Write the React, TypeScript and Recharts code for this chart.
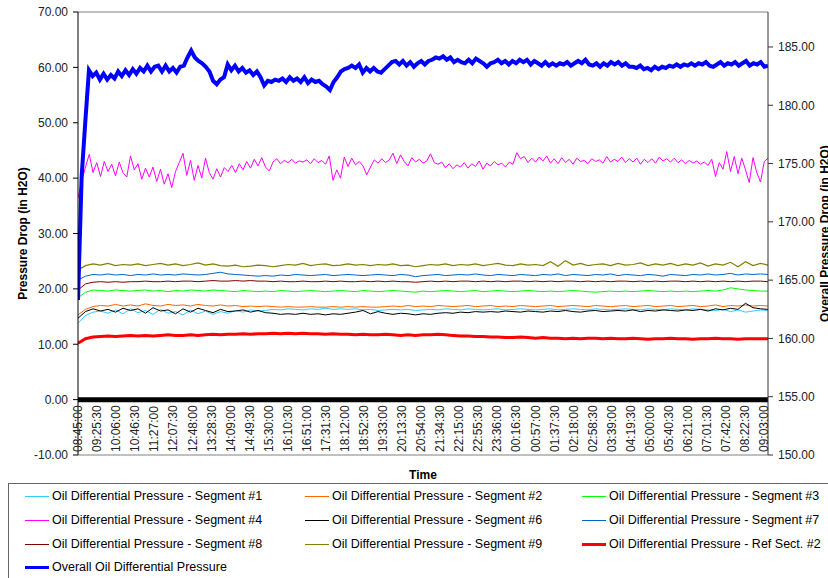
import React from 'react';
import { LineChart, Line, XAxis, YAxis, ReferenceLine } from 'recharts';

// time labels every 40 min 30 s, 08:45:00 -> 09:03:00 next day
const timeLabels = [
  '08:45:00', '09:25:30', '10:06:00', '10:46:30', '11:27:00', '12:07:30', '12:48:00', '13:28:30',
  '14:09:00', '14:49:30', '15:30:00', '16:10:30', '16:51:00', '17:31:30', '18:12:00', '18:52:30',
  '19:33:00', '20:13:30', '20:54:00', '21:34:30', '22:15:00', '22:55:30', '23:36:00', '00:16:30',
  '00:57:00', '01:37:30', '02:18:00', '02:58:30', '03:39:00', '04:19:30', '05:00:00', '05:40:30',
  '06:21:00', '07:01:30', '07:42:00', '08:22:30', '09:03:00',
];
const TICK_STEP = 40.5; // minutes
const END_MIN = 1466.5; // last sample, minutes after 08:45:00

const leftTicks = [-10, 0, 10, 20, 30, 40, 50, 60, 70];
const rightTicks = [150, 155, 160, 165, 170, 175, 180, 185];

const seg1 = [13.8, 15.2, 15.8, 16.0, 15.6, 16.2, 15.5, 16.4, 15.7, 16.1, 15.4, 16.3, 15.6, 15.9, 15.3, 16.2, 15.5, 16.0, 15.4, 15.9, 15.6, 16.1, 15.8, 16.2, 16.0, 16.1, 16.3, 16.2, 16.4, 16.3, 16.2, 16.4, 16.3, 16.5, 16.3, 16.4, 16.3, 16.4, 16.2, 16.3, 16.1, 16.2, 16.3, 16.2, 16.3, 16.1, 16.2, 16.3, 16.2, 16.4, 16.3, 16.2, 16.4, 16.3, 16.2, 16.3, 16.4, 16.2, 16.3, 16.4, 16.3, 16.2, 16.3, 16.4, 16.2, 16.3, 16.4, 16.3, 16.2, 16.4, 16.3, 16.2, 16.3, 16.4, 16.3, 16.2, 16.4, 16.3, 16.2, 16.4, 16.3, 16.2, 16.4, 16.3, 16.2, 16.1, 16.3, 15.9, 16.2, 15.8, 16.0, 16.2, 16.1];
const seg2 = [15.3, 16.3, 16.8, 17.0, 16.9, 17.2, 16.9, 17.1, 16.9, 17.3, 17.0, 16.9, 17.2, 17.0, 17.1, 16.9, 17.2, 17.0, 16.9, 17.1, 16.9, 17.0, 16.8, 16.9, 16.8, 16.9, 16.8, 16.7, 16.8, 16.7, 16.7, 16.8, 16.7, 16.7, 16.8, 16.7, 16.8, 16.7, 16.8, 16.7, 16.7, 16.8, 16.9, 16.8, 17.0, 16.8, 16.9, 16.8, 17.0, 16.9, 16.8, 16.9, 17.0, 16.8, 16.9, 17.0, 16.8, 16.9, 16.8, 17.0, 16.9, 16.8, 16.9, 17.0, 16.8, 16.9, 17.0, 16.9, 16.8, 17.0, 16.9, 16.8, 16.9, 17.0, 16.8, 16.9, 17.0, 16.8, 16.9, 17.0, 16.8, 16.9, 17.0, 16.8, 16.9, 17.1, 16.8, 17.0, 16.9, 17.1, 16.9, 17.0, 16.9];
const seg3 = [18.4, 19.4, 19.8, 19.7, 19.6, 19.8, 19.7, 19.6, 19.7, 19.8, 19.6, 19.7, 19.5, 19.7, 19.6, 19.8, 19.7, 19.6, 19.8, 19.7, 19.6, 19.5, 19.7, 19.6, 19.5, 19.6, 19.5, 19.7, 19.6, 19.5, 19.6, 19.7, 19.6, 19.5, 19.6, 19.7, 19.6, 19.5, 19.7, 19.6, 19.5, 19.6, 19.7, 19.6, 19.5, 19.4, 19.6, 19.5, 19.6, 19.7, 19.6, 19.5, 19.6, 19.7, 19.5, 19.6, 19.7, 19.6, 19.5, 19.6, 19.7, 19.6, 19.5, 19.6, 19.5, 19.6, 19.7, 19.6, 19.5, 19.4, 19.5, 19.6, 19.5, 19.6, 19.5, 19.6, 19.7, 19.6, 19.5, 19.6, 19.5, 19.6, 19.5, 19.6, 19.7, 19.6, 19.8, 20.2, 20.0, 19.8, 19.7, 19.6, 19.6];
const seg4 = [36.4, 39.5, 42.0, 44.3, 41.0, 42.8, 40.3, 43.0, 41.2, 42.5, 40.4, 42.9, 41.0, 40.2, 44.0, 41.5, 42.6, 39.8, 41.8, 40.2, 42.0, 39.4, 41.6, 38.9, 40.8, 38.3, 41.2, 42.8, 44.5, 40.5, 43.2, 39.6, 42.3, 40.0, 43.6, 41.0, 39.8, 41.7, 40.2, 41.9, 41.2, 42.3, 41.0, 42.6, 41.5, 43.0, 41.8, 43.4, 42.2, 43.7, 42.0, 41.3, 42.9, 43.5, 42.6, 43.2, 42.8, 43.4, 42.7, 43.1, 42.9, 43.3, 42.6, 43.5, 42.8, 43.2, 42.5, 44.0, 39.6, 41.5, 40.0, 43.8, 42.1, 43.6, 42.4, 43.0, 42.2, 40.6, 42.0, 43.3, 42.7, 43.5, 42.8, 43.3, 44.5, 42.6, 44.2, 43.0, 42.2, 43.7, 42.9, 43.4, 42.7, 43.1, 44.4, 42.8, 42.5, 42.9, 41.9, 42.6, 41.7, 42.4, 42.0, 42.8, 41.8, 42.6, 42.1, 43.1, 41.6, 42.7, 42.2, 43.0, 42.4, 42.7, 42.0, 42.9, 42.5, 44.6, 43.5, 43.9, 42.8, 43.6, 42.9, 43.8, 43.1, 44.0, 42.7, 43.5, 42.6, 43.7, 42.8, 43.4, 42.5, 43.6, 43.0, 43.2, 42.6, 43.5, 43.0, 43.3, 42.7, 43.9, 42.9, 43.4, 43.0, 43.8, 42.8, 43.5, 42.9, 43.6, 42.5, 43.4, 42.8, 43.5, 42.7, 43.8, 43.1, 43.5, 42.9, 43.6, 42.8, 43.3, 42.6, 43.2, 42.7, 43.1, 42.5, 42.9, 42.3, 43.4, 40.3, 42.8, 41.6, 44.8, 41.2, 43.9, 40.8, 43.6, 41.5, 39.2, 43.7, 41.0, 39.3, 43.0, 43.6];
const seg6 = [14.7, 15.9, 16.4, 16.0, 16.3, 15.8, 16.5, 16.1, 16.4, 15.6, 16.6, 16.0, 16.2, 15.5, 16.4, 15.8, 16.5, 16.1, 15.7, 16.3, 15.9, 16.0, 16.2, 15.8, 16.1, 15.7, 15.6, 15.4, 15.5, 15.4, 15.6, 15.4, 15.5, 15.3, 15.5, 15.4, 15.6, 15.8, 16.1, 15.5, 15.9, 15.6, 15.4, 15.6, 15.5, 15.3, 15.5, 15.4, 15.6, 15.7, 15.6, 15.8, 15.7, 15.9, 15.8, 15.9, 15.8, 16.0, 15.9, 15.8, 16.0, 15.9, 15.8, 16.0, 15.9, 16.1, 15.9, 15.8, 16.0, 16.1, 15.9, 16.0, 16.1, 16.0, 16.2, 15.9, 16.1, 16.0, 16.2, 16.1, 16.0, 16.2, 16.1, 16.3, 16.0, 16.4, 16.2, 16.5, 16.3, 17.4, 16.6, 16.4, 16.3];
const seg7 = [21.6, 22.3, 22.6, 22.5, 22.7, 22.5, 22.6, 22.4, 22.6, 22.5, 22.7, 22.5, 22.6, 22.5, 22.7, 22.6, 22.5, 22.6, 22.8, 23.0, 22.7, 22.6, 22.5, 22.4, 22.3, 22.4, 22.3, 22.5, 22.4, 22.6, 22.5, 22.4, 22.5, 22.6, 22.4, 22.5, 22.6, 22.5, 22.4, 22.5, 22.6, 22.5, 22.4, 22.6, 22.5, 22.2, 22.4, 22.5, 22.6, 22.4, 22.5, 22.6, 22.5, 22.7, 22.5, 22.4, 22.6, 22.5, 22.4, 22.6, 22.5, 22.4, 22.6, 22.5, 22.7, 22.4, 22.6, 22.5, 22.4, 22.6, 22.5, 22.7, 22.4, 22.6, 22.5, 22.4, 22.6, 22.5, 22.3, 22.6, 22.5, 22.4, 22.6, 22.5, 22.7, 22.5, 22.6, 22.8, 22.5, 22.7, 22.6, 22.7, 22.6];
const seg8 = [19.8, 20.9, 21.2, 21.3, 21.2, 21.3, 21.2, 21.3, 21.3, 21.4, 21.3, 21.3, 21.4, 21.3, 21.4, 21.4, 21.3, 21.4, 21.5, 21.4, 21.4, 21.5, 21.4, 21.5, 21.4, 21.4, 21.3, 21.4, 21.3, 21.3, 21.4, 21.3, 21.3, 21.4, 21.3, 21.4, 21.3, 21.3, 21.4, 21.3, 21.4, 21.3, 21.4, 21.3, 21.3, 21.2, 21.3, 21.4, 21.3, 21.4, 21.3, 21.4, 21.4, 21.3, 21.4, 21.3, 21.4, 21.3, 21.4, 21.4, 21.3, 21.4, 21.3, 21.4, 21.3, 21.4, 21.4, 21.3, 21.4, 21.3, 21.4, 21.3, 21.4, 21.4, 21.3, 21.4, 21.3, 21.4, 21.3, 21.4, 21.4, 21.3, 21.4, 21.3, 21.4, 21.3, 21.4, 21.3, 21.4, 21.3, 21.4, 21.4, 21.3];
const seg9 = [23.4, 24.2, 24.5, 24.3, 24.6, 24.2, 24.4, 24.3, 24.5, 24.2, 24.4, 24.6, 24.3, 24.5, 24.2, 24.4, 24.7, 24.3, 24.5, 24.2, 24.1, 24.3, 24.0, 24.1, 24.3, 24.2, 24.0, 24.2, 24.4, 24.3, 24.6, 24.2, 24.4, 24.5, 24.2, 24.3, 24.5, 24.3, 24.4, 24.2, 24.4, 24.3, 24.5, 24.2, 24.3, 24.0, 24.2, 24.4, 24.3, 24.5, 24.2, 24.4, 24.3, 24.5, 24.2, 24.4, 24.6, 24.3, 24.2, 24.5, 24.3, 24.4, 24.2, 24.9, 24.1, 25.1, 24.3, 24.6, 24.2, 24.4, 24.5, 24.2, 24.6, 24.3, 24.4, 24.7, 24.2, 24.5, 24.3, 24.6, 24.2, 24.5, 24.3, 24.7, 24.1, 24.5, 24.3, 24.8, 24.0, 24.9, 24.2, 24.6, 24.3];
const refSect2 = [10.2, 11.0, 11.3, 11.4, 11.5, 11.4, 11.5, 11.6, 11.5, 11.6, 11.5, 11.6, 11.7, 11.6, 11.6, 11.7, 11.6, 11.7, 11.8, 11.7, 11.8, 11.8, 11.9, 11.8, 11.9, 11.9, 12.0, 11.9, 12.0, 11.9, 12.0, 11.9, 11.9, 11.8, 11.9, 11.8, 11.8, 11.7, 11.8, 11.7, 11.7, 11.8, 11.7, 11.6, 11.7, 11.6, 11.7, 11.7, 11.8, 11.7, 11.6, 11.5, 11.5, 11.4, 11.4, 11.3, 11.3, 11.2, 11.2, 11.3, 11.2, 11.1, 11.2, 11.1, 11.1, 11.0, 11.1, 11.0, 11.1, 11.1, 11.0, 11.1, 11.0, 11.0, 11.1, 11.0, 10.9, 11.0, 11.0, 11.1, 11.0, 11.0, 10.9, 11.0, 11.0, 11.1, 11.0, 11.0, 10.9, 11.0, 11.0, 11.0, 11.0];
// right axis
const overall = [163.3, 173.9, 178.6, 183.0, 182.5, 182.8, 182.2, 182.7, 182.2, 182.6, 182.3, 182.9, 182.5, 183.0, 182.6, 183.1, 182.7, 183.2, 182.9, 183.4, 182.9, 183.3, 183.4, 182.9, 183.4, 182.9, 183.2, 182.8, 183.3, 183.4, 184.1, 184.7, 184.1, 183.8, 183.6, 183.3, 182.9, 182.1, 181.8, 182.2, 182.4, 183.5, 183.0, 183.4, 182.9, 183.2, 182.8, 183.0, 182.6, 182.9, 182.4, 181.7, 182.1, 182.0, 182.2, 182.1, 182.3, 182.0, 182.4, 182.1, 182.3, 182.0, 182.4, 181.9, 182.2, 182.0, 182.1, 181.8, 181.6, 181.3, 182.0, 182.4, 182.9, 183.1, 183.2, 183.4, 183.2, 183.5, 182.8, 183.2, 182.9, 183.2, 182.9, 182.8, 183.1, 183.4, 183.7, 183.8, 183.5, 183.8, 183.4, 183.7, 183.3, 183.6, 183.8, 183.5, 183.8, 183.9, 184.1, 184.0, 184.2, 183.9, 184.1, 183.7, 183.9, 183.7, 183.6, 183.9, 183.6, 184.0, 183.8, 183.6, 183.3, 183.6, 183.7, 183.9, 183.6, 183.8, 183.5, 183.8, 183.6, 183.9, 183.7, 183.9, 183.5, 183.8, 183.6, 183.4, 183.7, 183.4, 183.6, 183.4, 183.6, 183.5, 183.7, 183.4, 183.6, 183.8, 183.6, 183.9, 183.5, 183.4, 183.6, 183.3, 183.6, 183.4, 183.7, 183.5, 183.7, 183.4, 183.6, 183.3, 183.3, 183.2, 183.4, 183.1, 183.2, 183.0, 183.3, 183.1, 183.3, 183.2, 183.4, 183.3, 183.5, 183.3, 183.5, 183.4, 183.6, 183.4, 183.6, 183.5, 183.7, 183.4, 183.3, 183.5, 183.7, 183.4, 183.6, 183.5, 183.7, 183.4, 183.6, 183.8, 183.4, 183.6, 183.5, 183.7, 183.3, 183.4];

const series = [
  { name: 'Oil Differential Pressure - Segment #1', color: '#33CCFF', width: 1, keyWidth: 1, values: seg1, axis: 'left' },
  { name: 'Oil Differential Pressure - Segment #2', color: '#FF6600', width: 1, keyWidth: 1, values: seg2, axis: 'left' },
  { name: 'Oil Differential Pressure - Segment #3', color: '#00FF00', width: 1, keyWidth: 1, values: seg3, axis: 'left' },
  { name: 'Oil Differential Pressure - Segment #4', color: '#FF00FF', width: 1, keyWidth: 1, values: seg4, axis: 'left' },
  { name: 'Oil Differential Pressure - Segment #6', color: '#000000', width: 1, keyWidth: 1, values: seg6, axis: 'left' },
  { name: 'Oil Differential Pressure - Segment #7', color: '#0066CC', width: 1, keyWidth: 1, values: seg7, axis: 'left' },
  { name: 'Oil Differential Pressure - Segment #8', color: '#800000', width: 1, keyWidth: 1, values: seg8, axis: 'left' },
  { name: 'Oil Differential Pressure - Segment #9', color: '#808000', width: 1.2, keyWidth: 1, values: seg9, axis: 'left' },
  { name: 'Oil Differential Pressure - Ref Sect. #2', color: '#FF0000', width: 3, keyWidth: 3, values: refSect2, axis: 'left' },
  { name: 'Overall Oil Differential Pressure', color: '#0000FF', width: 4, keyWidth: 3, values: overall, axis: 'right' },
];

const toPoints = (vals: number[]) => vals.map((v, i) => ({ t: (i * END_MIN) / (vals.length - 1), v }));

const FONT = "'Liberation Sans', Arial, sans-serif";

const TimeTick = (props: any) => {
  const { x, y, payload } = props;
  const label = timeLabels[Math.round(payload.value / TICK_STEP)];
  return (
    <text transform={`translate(${x},${y - 3}) rotate(-90)`} textAnchor="start" dy="0.35em" fontSize={12} fill="#222" fontFamily={FONT}>
      {label}
    </text>
  );
};

const SideTitle = (props: any) => {
  const { viewBox, value, dx } = props;
  const cx = viewBox.x + dx;
  const cy = viewBox.y + viewBox.height / 2;
  return (
    <text x={cx} y={cy} transform={`rotate(-90 ${cx} ${cy})`} textAnchor="middle" fontSize={12} fontWeight="bold" fill="#000" fontFamily={FONT}>
      {value}
    </text>
  );
};

const legendCols = [25, 305, 582];
const legendRows = [496, 520, 544, 567];

export default function App() {
  return (
    <div style={{ position: 'absolute', left: 0, top: 0, width: 828, height: 578, overflow: 'hidden', background: '#fff', fontFamily: FONT }}>
      <LineChart width={828} height={484} margin={{ top: 12, right: 0, bottom: 4, left: 8 }}>
        <XAxis
          type="number"
          dataKey="t"
          domain={[0, END_MIN]}
          ticks={timeLabels.map((_, i) => i * TICK_STEP)}
          interval={0}
          allowDataOverflow
          height={25}
          tickSize={0}
          tickMargin={0}
          tickLine={false}
          axisLine={{ stroke: '#808080' }}
          tick={<TimeTick />}
          label={{ value: 'Time', position: 'insideBottom', offset: 1, fontSize: 12, fontWeight: 'bold', fill: '#000', fontFamily: FONT }}
        />
        <YAxis
          yAxisId="left"
          domain={[-10, 70]}
          ticks={leftTicks}
          interval={0}
          allowDataOverflow
          width={70}
          tickSize={5}
          tickMargin={5}
          tickFormatter={(v: number) => v.toFixed(2)}
          tick={{ fontSize: 12, fill: '#222', fontFamily: FONT }}
          axisLine={{ stroke: '#000' }}
          tickLine={{ stroke: '#000' }}
          label={<SideTitle value="Pressure Drop (in H2O)" dx={19} />}
        />
        <YAxis
          yAxisId="right"
          orientation="right"
          domain={[150, 188]}
          ticks={rightTicks}
          interval={0}
          allowDataOverflow
          width={60}
          tickSize={5}
          tickMargin={5}
          tickFormatter={(v: number) => v.toFixed(2)}
          tick={{ fontSize: 12, fill: '#222', fontFamily: FONT }}
          axisLine={{ stroke: '#333' }}
          tickLine={{ stroke: '#333' }}
          label={<SideTitle value="Overall Pressure Drop (in H2O)" dx={61} />}
        />
        <ReferenceLine yAxisId="left" y={70} stroke="#808080" strokeWidth={1} />
        <ReferenceLine yAxisId="left" y={0} stroke="#000" strokeWidth={5} />
        {series.map((s) => (
          <Line
            key={s.name}
            name={s.name}
            data={toPoints(s.values)}
            dataKey="v"
            yAxisId={s.axis}
            type="linear"
            stroke={s.color}
            strokeWidth={s.width}
            dot={false}
            activeDot={false}
            isAnimationActive={false}
          />
        ))}
      </LineChart>
      <div style={{ position: 'absolute', left: 8, top: 483, width: 840, height: 110, border: '1px solid #666', boxSizing: 'border-box' }} />
      {series.map((s, k) => {
        const left = legendCols[k % 3];
        const cy = legendRows[Math.floor(k / 3)];
        return (
          <div key={s.name} style={{ position: 'absolute', left, top: cy - 8, height: 16, display: 'flex', alignItems: 'center', whiteSpace: 'nowrap' }}>
            <div style={{ width: 24, height: s.keyWidth, background: s.color, marginRight: 3 }} />
            <span style={{ fontSize: 12.5, color: '#000' }}>{s.name}</span>
          </div>
        );
      })}
    </div>
  );
}
